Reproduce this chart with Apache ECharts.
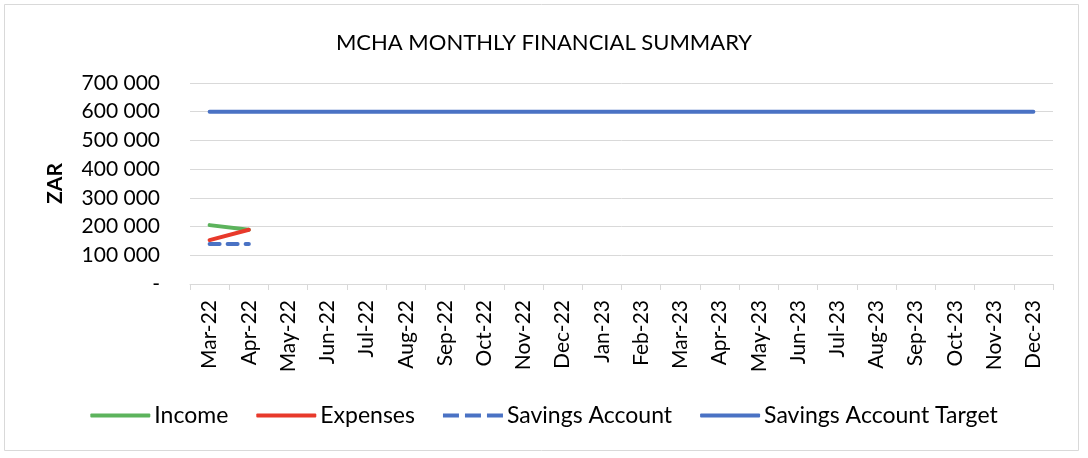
<!DOCTYPE html>
<html>
<head>
<meta charset="utf-8">
<script src="https://cdn.jsdelivr.net/npm/echarts@6/dist/echarts.min.js"></script>
<style>
  html, body { margin: 0; padding: 0; background: #fff; }
  #chart { width: 1088px; height: 458px; }
</style>
</head>
<body>
<div id="chart"></div>
<script>
// months along the x axis
const months = ['Mar-22','Apr-22','May-22','Jun-22','Jul-22','Aug-22','Sep-22','Oct-22','Nov-22','Dec-22',
  'Jan-23','Feb-23','Mar-23','Apr-23','May-23','Jun-23','Jul-23','Aug-23','Sep-23','Oct-23','Nov-23','Dec-23'];
const income = [205000, 189000];
const expenses = [153000, 189000];
const savings = [139000, 139000];
const savingsTarget = [600000, 600000, 600000, 600000, 600000, 600000, 600000, 600000, 600000, 600000, 600000,
  600000, 600000, 600000, 600000, 600000, 600000, 600000, 600000, 600000, 600000, 600000];

const font = 'Lato, "Noto Sans", sans-serif';
const green = '#5cb35c', red = '#e8392b', blue = '#4a72c4';
// three short bars for the dashed legend key
const dash_icon = 'path://M0,0h16v4h-16z M22,0h16v4h-16z M44,0h16v4h-16z';

function fmt_zar(v){
  if(v == 0) return '-';
  return String(v).replace(/\B(?=(\d{3})+(?!\d))/g, ' ');
}

function line(name, data, color, type){
  return {
    name, type: 'line', data,
    symbol: 'none',
    lineStyle: { color, width: 4, type: type || 'solid', cap: 'round' },
    itemStyle: { color },
    emphasis: { disabled: true }
  };
}

let chart = echarts.init(document.getElementById('chart'));
chart.setOption({
  animation: false,
  textStyle: { fontFamily: font },
  graphic: [{
    type: 'rect',
    shape: { x: 4.5, y: 4.5, width: 1074, height: 446 },
    style: { fill: 'none', stroke: '#d9d9d9', lineWidth: 1 },
    silent: true
  }],
  title: {
    text: 'MCHA MONTHLY FINANCIAL SUMMARY',
    left: 'center', top: 27,
    textStyle: { fontFamily: font, fontSize: 22, fontWeight: 'normal', color: '#000' }
  },
  legend: {
    top: 399,
    left: 'center',
    itemWidth: 60, itemHeight: 4,
    itemGap: 28,
    textStyle: { fontFamily: font, fontSize: 23, color: '#000', padding: [0, 0, 0, -1] },
    data: [
      { name: 'Income', icon: 'roundRect', itemStyle: { color: green } },
      { name: 'Expenses', icon: 'roundRect', itemStyle: { color: red } },
      { name: 'Savings Account', icon: dash_icon, itemStyle: { color: blue } },
      { name: 'Savings Account Target', icon: 'roundRect', itemStyle: { color: blue } }
    ]
  },
  grid: { left: 190, right: 35, top: 83, bottom: 174 },
  xAxis: {
    type: 'category',
    data: months,
    boundaryGap: true,
    axisLine: { lineStyle: { color: '#d9d9d9', width: 1 } },
    axisTick: { show: true, interval: 0, length: 6, lineStyle: { color: '#d9d9d9' } },
    axisLabel: { rotate: 90, interval: 0, margin: 16, fontFamily: font, fontSize: 21, color: '#000' }
  },
  yAxis: {
    type: 'value',
    min: 0, max: 700000, interval: 100000,
    name: 'ZAR',
    nameLocation: 'middle',
    nameGap: 124,
    nameRotate: 90,
    nameTextStyle: { fontFamily: font, fontSize: 21, fontWeight: 'bold', color: '#000' },
    axisLine: { show: false },
    axisTick: { show: false },
    splitLine: { lineStyle: { color: '#d9d9d9', width: 1 } },
    axisLabel: { margin: 30, fontFamily: font, fontSize: 21, color: '#000', formatter: fmt_zar }
  },
  series: [
    line('Income', income, green),
    line('Expenses', expenses, red),
    line('Savings Account', savings, blue, [10, 8]),
    line('Savings Account Target', savingsTarget, blue)
  ]
});
</script>
</body>
</html>
